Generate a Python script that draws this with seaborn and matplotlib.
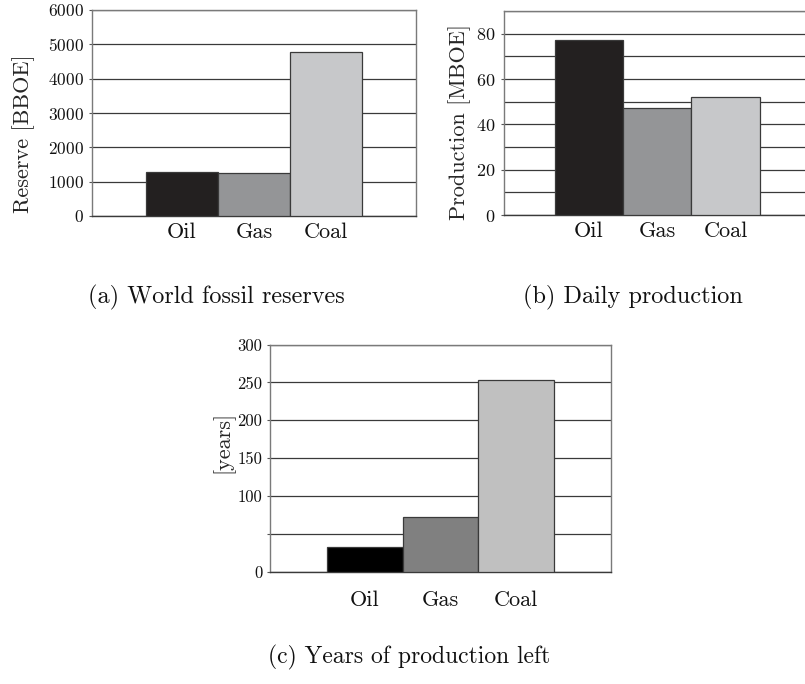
import matplotlib
matplotlib.use("Agg")
import matplotlib.pyplot as plt
import seaborn as sns
import pandas as pd

sns.set_theme(style="white")
plt.rcParams['font.family'] = ['cmr10', 'DejaVu Serif']
plt.rcParams['axes.formatter.use_mathtext'] = True

categories = ["Oil", "Gas", "Coal"]
reserves = [1280, 1240, 4790]
production = [77, 47, 52]
years_left = [33, 73, 253]

colors_ab = ["#231f20", "#939598", "#c7c8ca"]
colors_c = ["#000000", "#808080", "#c0c0c0"]

reserve_ticks = [0, 1000, 2000, 3000, 4000, 5000, 6000]
production_major = [0, 20, 40, 60, 80]
production_minor = [10, 30, 50, 70, 90]
years_ticks = [0, 50, 100, 150, 200, 250, 300]
years_ticklabels = ["0", "", "100", "150", "200", "250", "300"]

fig = plt.figure(figsize=(8.05, 6.84), dpi=100)

def make_axes(rect):
    return fig.add_axes(rect)

ax_a = make_axes([92/805, 1-216/684, 324/805, 206/684])
ax_b = make_axes([503.5/805, 1-215/684, 307.5/805, 204/684])
ax_c = make_axes([270/805, 1-572/684, 341/805, 227.5/684])

def draw(ax, values, colors):
    df = pd.DataFrame({"cat": categories, "val": values})
    sns.barplot(data=df, x="cat", y="val", hue="cat", palette=colors,
                width=1.0, edgecolor="#3a3a3a", linewidth=0.9,
                legend=False, ax=ax, zorder=3)
    ax.set_xlim(-1.25, 3.25)
    ax.set_xlabel("")
    ax.set_axisbelow(True)
    for s in ["left", "right", "top"]:
        ax.spines[s].set_color("#7a7a7a")
        ax.spines[s].set_linewidth(1.0)
    ax.spines["bottom"].set_color("#3a3a3a")
    ax.spines["bottom"].set_linewidth(1.0)
    ax.tick_params(axis="x", length=0, labelsize=16, colors="#111111")
    ax.tick_params(axis="y", which="both", length=2.5, width=0.8, color="#555555",
                   direction="out", left=True, colors="#111111")
    ax.yaxis.grid(True, which="both", color="#3a3a3a", linewidth=0.9)
    ax.xaxis.grid(False)

# (a)
draw(ax_a, reserves, colors_ab)
ax_a.set_ylim(0, 6000)
ax_a.set_yticks(reserve_ticks)
ax_a.tick_params(axis="y", labelsize=12.5, pad=3)
ax_a.tick_params(axis="x", pad=5)
ax_a.set_ylabel("Reserve [BBOE]", fontsize=16)
ax_a.yaxis.set_label_coords(-0.175, 0.40)

# (b)
draw(ax_b, production, colors_ab)
ax_b.set_ylim(0, 90)
ax_b.set_yticks(production_major)
ax_b.set_yticks(production_minor, minor=True)
ax_b.tick_params(axis="y", labelsize=13, pad=3)
ax_b.tick_params(axis="y", which="minor", length=0)
ax_b.tick_params(axis="x", pad=5)
ax_b.set_ylabel("Production [MBOE]", fontsize=16)
ax_b.yaxis.set_label_coords(-0.105, 0.455)

# (c)
draw(ax_c, years_left, colors_c)
ax_c.set_ylim(0, 300)
ax_c.set_yticks(years_ticks)
ax_c.set_yticklabels(years_ticklabels)
ax_c.tick_params(axis="y", labelsize=12, pad=3)
ax_c.tick_params(axis="x", pad=13)
ax_c.set_ylabel("[years]", fontsize=16)
ax_c.yaxis.set_label_coords(-0.105, 0.57)

fig.text(216/805, 1-297/684, "(a) World fossil reserves", fontsize=17.5,
         ha="center", va="center", color="#111111")
fig.text(633/805, 1-297/684, "(b) Daily production", fontsize=17.5,
         ha="center", va="center", color="#111111")
fig.text(409/805, 1-657/684, "(c) Years of production left", fontsize=17,
         ha="center", va="center", color="#111111")

fig.savefig("out.png", dpi=100)
